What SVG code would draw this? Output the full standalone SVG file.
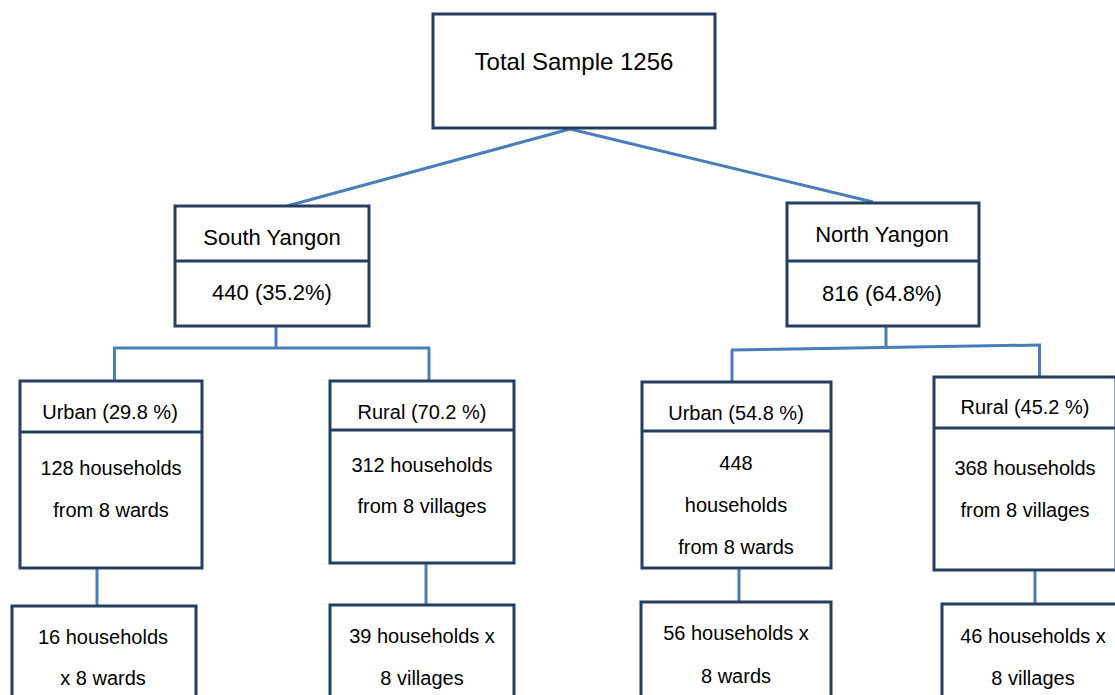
<svg xmlns="http://www.w3.org/2000/svg" width="1115" height="695" viewBox="0 0 1115 695">
<style>
.box{fill:#ffffff;stroke:#243F60;stroke-width:3}
.div{stroke:#243F60;stroke-width:3}
.con{fill:none;stroke:#4A7EBB;stroke-width:3}
text{font-family:"Liberation Sans",Arial,sans-serif;fill:#000;text-anchor:middle}
.t24{font-size:24px}
.t22{font-size:22px}
.t20{font-size:20px}
</style>
<rect width="1115" height="695" fill="#ffffff"/>
<g id="connectors">
<path class="con" d="M570,129 L287,206"/>
<path class="con" d="M570,129 L873,202"/>
<path class="con" d="M276,326 V348"/>
<path class="con" d="M113,348 H430"/>
<path class="con" d="M114.5,348 V380"/>
<path class="con" d="M429,348 V380"/>
<path class="con" d="M886,326 V348"/>
<path class="con" d="M731,350 L1041,345"/>
<path class="con" d="M732,350 V381"/>
<path class="con" d="M1039.5,345 V376"/>
<path class="con" d="M97,568 V605"/>
<path class="con" d="M426,563 V604"/>
<path class="con" d="M739,568 V601"/>
<path class="con" d="M1035,570 V604"/>
</g>
<g id="total">
<rect class="box" x="433" y="14" width="282" height="114"/>
<text class="t24" x="574" y="70">Total Sample 1256</text>
</g>
<g id="south">
<rect class="box" x="175" y="206" width="194" height="120"/>
<line class="div" x1="175" y1="261" x2="369" y2="261"/>
<text class="t22" x="272" y="245">South Yangon</text>
<text class="t22" x="272" y="300">440 (35.2%)</text>
</g>
<g id="north">
<rect class="box" x="787" y="203" width="192" height="123"/>
<line class="div" x1="787" y1="261" x2="979" y2="261"/>
<text class="t22" x="882" y="242">North Yangon</text>
<text class="t22" x="882" y="301">816 (64.8%)</text>
</g>
<g id="urban-south">
<rect class="box" x="20" y="381" width="182" height="187"/>
<line class="div" x1="20" y1="432" x2="202" y2="432"/>
<text class="t20" x="110" y="419">Urban (29.8 %)</text>
<text class="t20" x="111" y="475">128 households</text>
<text class="t20" x="111" y="517">from 8 wards</text>
</g>
<g id="rural-south">
<rect class="box" x="330" y="381" width="184" height="182"/>
<line class="div" x1="330" y1="430" x2="514" y2="430"/>
<text class="t20" x="422" y="419">Rural (70.2 %)</text>
<text class="t20" x="422" y="472">312 households</text>
<text class="t20" x="422" y="513">from 8 villages</text>
</g>
<g id="urban-north">
<rect class="box" x="642" y="382" width="189" height="186"/>
<line class="div" x1="642" y1="431" x2="831" y2="431"/>
<text class="t20" x="736" y="420">Urban (54.8 %)</text>
<text class="t20" x="736" y="470">448</text>
<text class="t20" x="736" y="512">households</text>
<text class="t20" x="736" y="554">from 8 wards</text>
</g>
<g id="rural-north">
<rect class="box" x="934" y="377" width="182" height="193"/>
<line class="div" x1="934" y1="428" x2="1116" y2="428"/>
<text class="t20" x="1025" y="414">Rural (45.2 %)</text>
<text class="t20" x="1025" y="475">368 households</text>
<text class="t20" x="1025" y="517">from 8 villages</text>
</g>
<g id="urban-south-detail">
<rect class="box" x="12" y="606" width="184" height="120"/>
<text class="t20" x="103" y="644">16 households</text>
<text class="t20" x="103" y="685">x 8 wards</text>
</g>
<g id="rural-south-detail">
<rect class="box" x="330" y="605" width="184" height="120"/>
<text class="t20" x="422" y="643">39 households x</text>
<text class="t20" x="422" y="685">8 villages</text>
</g>
<g id="urban-north-detail">
<rect class="box" x="641" y="602" width="190" height="120"/>
<text class="t20" x="736" y="640">56 households x</text>
<text class="t20" x="736" y="683">8 wards</text>
</g>
<g id="rural-north-detail">
<rect class="box" x="942" y="604" width="190" height="120"/>
<text class="t20" x="1033" y="643">46 households x</text>
<text class="t20" x="1033" y="685">8 villages</text>
</g>
</svg>
